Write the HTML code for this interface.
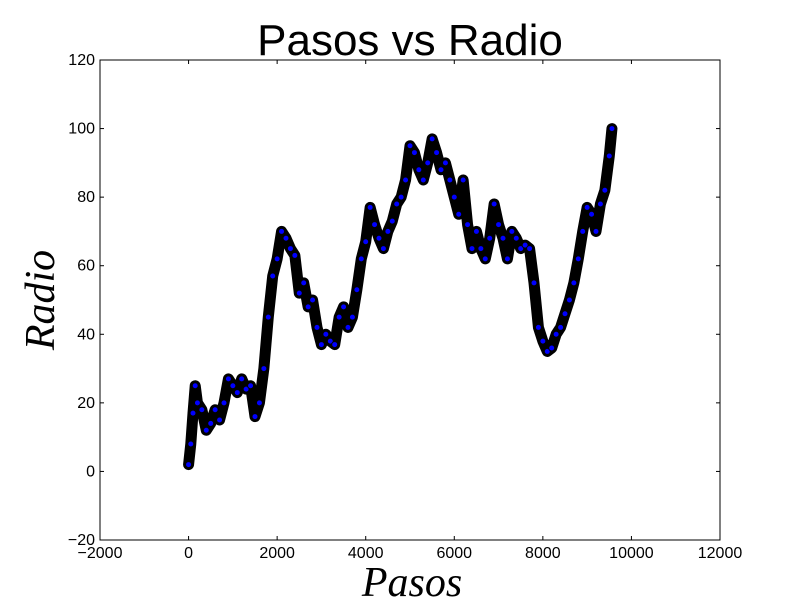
<!DOCTYPE html>
<html><head><meta charset="utf-8"><style>
body{margin:0;background:#fff;width:800px;height:600px;overflow:hidden}
svg text{font-family:"Liberation Sans",sans-serif}
</style></head><body>
<svg id="chart" width="800" height="600">
<rect x="0" y="0" width="800" height="600" fill="#fff"/>
<text x="410" y="55" font-size="44" text-anchor="middle">Pasos vs Radio</text>
<text x="412" y="596" font-size="42" font-style="italic" text-anchor="middle" style="font-family:'Liberation Serif',serif">Pasos</text>
<text transform="translate(54,300) rotate(-90)" font-size="42" font-style="italic" text-anchor="middle" style="font-family:'Liberation Serif',serif">Radio</text>
<g id="marks"></g>
<g id="axes"></g>
<rect x="100" y="60" width="620" height="480" fill="none" stroke="#000" stroke-width="1"/>
</svg>
<script>
const steps=[0,50,100,150,200,300,400,500,600,700,800,900,1000,1100,1200,1300,1400,1500,1600,1700,1800,1900,2000,2100,2200,2300,2400,2500,2600,2700,2800,2900,3000,3100,3200,3300,3400,3500,3600,3700,3800,3900,4000,4100,4200,4300,4400,4500,4600,4700,4800,4900,5000,5100,5200,5300,5400,5500,5600,5700,5800,5900,6000,6100,6200,6300,6400,6500,6600,6700,6800,6900,7000,7100,7200,7300,7400,7500,7600,7700,7800,7900,8000,8100,8200,8300,8400,8500,8600,8700,8800,8900,9000,9100,9200,9300,9400,9500,9560];
const radios=[2,8,17,25,20,18,12,14,18,15,20,27,25,23,27,24,25,16,20,30,45,57,62,70,68,65,63,52,55,48,50,42,37,40,38,37,45,48,42,45,53,62,67,77,72,68,65,70,73,78,80,85,95,93,88,85,90,97,93,88,90,85,80,75,85,72,65,70,65,62,68,78,72,68,62,70,68,65,66,65,55,42,38,35,36,40,42,46,50,55,62,70,77,75,70,78,82,92,100];
const xTicks=[-2000,0,2000,4000,6000,8000,10000,12000];
const yTicks=[-20,0,20,40,60,80,100,120];
const NS="http://www.w3.org/2000/svg";
const X=v=>100+(v+2000)/14000*620;
const Y=v=>540-(v+20)/140*480;
const marks=document.getElementById('marks'),axes=document.getElementById('axes');
const band=document.createElementNS(NS,'polyline');
band.setAttribute('points',steps.map((s,i)=>X(s)+','+Y(radios[i])).join(' '));
band.setAttribute('fill','none');band.setAttribute('stroke','#000');band.setAttribute('stroke-width','11');band.setAttribute('stroke-linejoin','round');band.setAttribute('stroke-linecap','round');


marks.appendChild(band);
steps.forEach((s,i)=>{
 const c=document.createElementNS(NS,'circle');
 c.setAttribute('cx',X(s));c.setAttribute('cy',Y(radios[i]));c.setAttribute('r','3');
 c.setAttribute('fill','#0000ff');c.setAttribute('stroke','#000');c.setAttribute('stroke-width','1');
 
 
 marks.appendChild(c);
});
xTicks.forEach(t=>{
 const x=X(t);
 [[540,536],[60,64]].forEach(([a,b])=>{const l=document.createElementNS(NS,'line');l.setAttribute('x1',x);l.setAttribute('x2',x);l.setAttribute('y1',a);l.setAttribute('y2',b);l.setAttribute('stroke','#000');axes.appendChild(l);});
 const tx=document.createElementNS(NS,'text');tx.setAttribute('x',x);tx.setAttribute('y',558);tx.setAttribute('font-size','16');tx.setAttribute('text-anchor','middle');
 tx.textContent=t<0?'\u2212'+(-t):t;
 
 
 axes.appendChild(tx);
});
yTicks.forEach(t=>{
 const y=Y(t);
 [[100,104],[720,716]].forEach(([a,b])=>{const l=document.createElementNS(NS,'line');l.setAttribute('x1',a);l.setAttribute('x2',b);l.setAttribute('y1',y);l.setAttribute('y2',y);l.setAttribute('stroke','#000');axes.appendChild(l);});
 const tx=document.createElementNS(NS,'text');tx.setAttribute('x',95);tx.setAttribute('y',y+5);tx.setAttribute('font-size','16');tx.setAttribute('text-anchor','end');
 tx.textContent=t<0?'\u2212'+(-t):t;
 
 
 axes.appendChild(tx);
});
</script>
</body></html>
